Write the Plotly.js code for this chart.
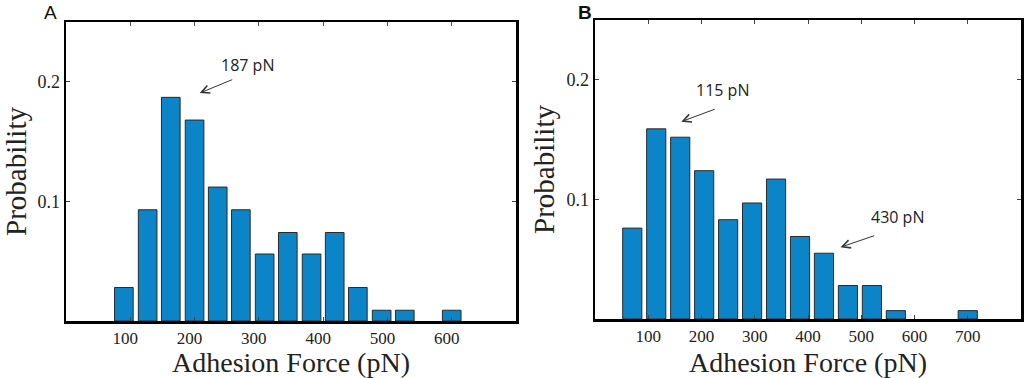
<!DOCTYPE html>
<html>
<head>
<meta charset="utf-8">
<script src="https://cdn.plot.ly/plotly-3.0.1.min.js"></script>
<style>html,body{margin:0;padding:0;background:#fff}#chart{width:1024px;height:378px}</style>
</head>
<body>
<div id="chart"></div>
<script>
// Panel A: bin centers (pN) and probabilities
const forceA = [90, 127, 163, 200, 236, 272, 309, 345, 382, 418, 454, 491, 527, 563, 600];
const probA  = [0.028, 0.093, 0.187, 0.168, 0.112, 0.093, 0.056, 0.074, 0.056, 0.074, 0.028, 0.009, 0.009, 0, 0.009];
// Panel B
const forceB = [70, 115, 160, 205, 250, 295, 340, 385, 430, 475, 520, 565, 610, 655, 700];
const probB  = [0.076, 0.159, 0.152, 0.124, 0.083, 0.097, 0.117, 0.069, 0.055, 0.028, 0.028, 0.007, 0, 0, 0.007];
const xTicksA = [100, 200, 300, 400, 500, 600];
const xTicksB = [100, 200, 300, 400, 500, 600, 700];
const yTicks = [0.1, 0.2];
const peakA = 187, peakB1 = 115, peakB2 = 430;

const barColor = '#0b84c8';
const serif = 'Liberation Serif, Times New Roman, serif';
const sans = 'Open Sans, Noto Sans, sans-serif';

function barTrace(x, y, xa, ya, w) {
  return {type: 'bar', x: x, y: y, xaxis: xa, yaxis: ya, width: w,
    marker: {color: barColor, line: {color: '#2a2a2a', width: y.map(v => v > 0 ? 1 : 0)}},
    hoverinfo: 'x+y'};
}
const traces = [
  barTrace(forceA, probA, 'x', 'y', 29),
  barTrace(forceB, probB, 'x2', 'y2', 36)
];

function xax(domain, range, ticks, shift, anchor) {
  return {domain: domain, range: range, tickvals: ticks, ticktext: ticks.map(String), anchor: anchor,
    ticks: 'inside', ticklen: 4, tickcolor: '#444', mirror: 'ticks', showline: true,
    linecolor: '#000', linewidth: 2.5, showgrid: false, zeroline: false,
    tickfont: {family: serif, size: 17, color: '#222'}, ticklabelshift: shift,
    title: {text: 'Adhesion Force (pN)', font: {family: serif, size: 28, color: '#222'}, standoff: 8},
    fixedrange: true};
}
function yax(domain, anchor) {
  return {domain: domain, range: [0, 0.25], tickvals: yTicks, ticktext: ['0.1', '0.2'],
    anchor: anchor,
    ticks: 'inside', ticklen: 4, tickcolor: '#444', mirror: 'ticks', showline: true,
    linecolor: '#000', linewidth: 2.5, showgrid: false, zeroline: false,
    tickfont: {family: serif, size: 18, color: '#222'},
    title: {text: 'Probability', font: {family: serif, size: 29, color: '#222'}, standoff: 4},
    fixedrange: true};
}

const layout = {
  width: 1024, height: 378,
  margin: {l: 0, r: 0, t: 0, b: 0},
  paper_bgcolor: '#fff', plot_bgcolor: '#fff',
  showlegend: false,
  xaxis: xax([66/1024, 516/1024], [0, 700], xTicksA, -5, 'y'),
  yaxis: yax([1 - 321/378, 1 - 22/378], 'x'),
  xaxis2: xax([595/1024, 1021/1024], [0, 800], xTicksB, 0, 'y2'),
  yaxis2: yax([1 - 319/378, 1 - 20/378], 'x2'),
  annotations: [
    {xref: 'paper', yref: 'paper', x: 50/1024, y: 1 - 12/378, xanchor: 'center', yanchor: 'middle',
     text: 'A', showarrow: false,
     font: {family: 'Liberation Sans, Arial, sans-serif', size: 19, color: '#111'}},
    {xref: 'paper', yref: 'paper', x: 585/1024, y: 1 - 12/378, xanchor: 'center', yanchor: 'middle',
     text: '<b>B</b>', showarrow: false,
     font: {family: 'Liberation Sans, Arial, sans-serif', size: 19, color: '#111'}},
    // arrows
    {xref: 'x', yref: 'y', x: 208, y: 0.1906, ax: 34, ay: -14, text: '', showarrow: true,
     arrowhead: 5, arrowsize: 1.6, arrowwidth: 1, arrowcolor: '#333', standoff: 0},
    {xref: 'x2', yref: 'y2', x: 162, y: 0.165, ax: 35, ay: -13, text: '', showarrow: true,
     arrowhead: 5, arrowsize: 1.6, arrowwidth: 1, arrowcolor: '#333', standoff: 0},
    {xref: 'x2', yref: 'y2', x: 461, y: 0.06, ax: 35, ay: -12, text: '', showarrow: true,
     arrowhead: 5, arrowsize: 1.6, arrowwidth: 1, arrowcolor: '#333', standoff: 0},
    // labels
    {xref: 'x', yref: 'y', x: 283, y: 0.214, text: peakA + ' pN', showarrow: false,
     xanchor: 'center', yanchor: 'middle', font: {family: sans, size: 16, color: '#222'}},
    {xref: 'x2', yref: 'y2', x: 240, y: 0.1915, text: peakB1 + ' pN', showarrow: false,
     xanchor: 'center', yanchor: 'middle', font: {family: sans, size: 16, color: '#222'}},
    {xref: 'x2', yref: 'y2', x: 568, y: 0.0855, text: peakB2 + ' pN', showarrow: false,
     xanchor: 'center', yanchor: 'middle', font: {family: sans, size: 16, color: '#222'}}
  ]
};

Plotly.newPlot('chart', traces, layout, {staticPlot: true, displayModeBar: false});
</script>
</body>
</html>
